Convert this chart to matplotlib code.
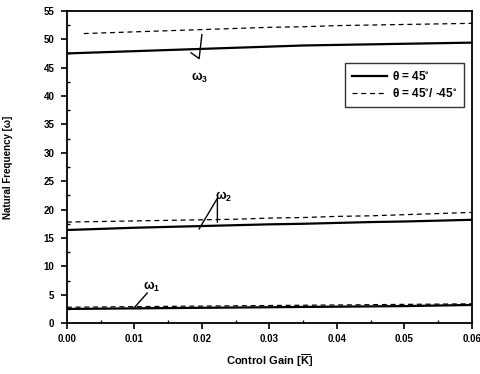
import matplotlib
matplotlib.use('Agg')
import matplotlib.pyplot as plt
from matplotlib.ticker import MultipleLocator

plt.rcParams['font.family'] = ['Liberation Sans', 'DejaVu Sans']
plt.rcParams['font.weight'] = 'bold'
plt.rcParams['mathtext.default'] = 'regular'

# control gain values
gain = [0.0, 0.005, 0.01, 0.015, 0.02, 0.025, 0.03, 0.035, 0.04, 0.045, 0.05, 0.055, 0.06]
gain_w3_dash = [0.0025, 0.005, 0.01, 0.015, 0.02, 0.025, 0.03, 0.035, 0.04, 0.045, 0.05, 0.055, 0.06]

# theta = 45 (solid)
w1_45 = [2.5, 2.55, 2.6, 2.65, 2.7, 2.75, 2.8, 2.85, 2.9, 2.95, 3.0, 3.1, 3.2]
w2_45 = [16.4, 16.6, 16.8, 16.95, 17.1, 17.25, 17.4, 17.5, 17.65, 17.8, 17.9, 18.05, 18.2]
w3_45 = [47.5, 47.7, 47.9, 48.1, 48.3, 48.5, 48.7, 48.9, 49.0, 49.1, 49.2, 49.3, 49.4]

# theta = 45/-45 (dashed)
w1_4545 = [2.8, 2.85, 2.9, 2.95, 3.0, 3.05, 3.1, 3.15, 3.2, 3.25, 3.3, 3.35, 3.4]
w2_4545 = [17.8, 17.9, 18.0, 18.1, 18.2, 18.3, 18.5, 18.6, 18.8, 18.9, 19.1, 19.3, 19.5]
w3_4545 = [51.0, 51.1, 51.3, 51.5, 51.7, 51.9, 52.1, 52.2, 52.4, 52.5, 52.6, 52.7, 52.8]

fig = plt.figure(figsize=(4.81, 3.74), dpi=100)
ax = fig.add_axes([0.139, 0.136, 0.842, 0.835])

ax.plot(gain, w1_45, color='black', lw=1.6, label=r'θ = 45$^{\circ}$')
ax.plot(gain, w1_4545, color='black', lw=0.9, ls=(0, (4, 3)), label=r'θ = 45$^{\circ}$/ -45$^{\circ}$')
ax.plot(gain, w2_45, color='black', lw=1.6)
ax.plot(gain, w2_4545, color='black', lw=0.9, ls=(0, (4, 3)))
ax.plot(gain, w3_45, color='black', lw=1.6)
ax.plot(gain_w3_dash, w3_4545, color='black', lw=0.9, ls=(0, (4, 3)))

# curve labels with leader lines
ax.plot([0.0184, 0.0196, 0.0200], [47.6, 46.6, 50.8], color='black', lw=1.0)
ax.text(0.0197, 43.2, r'ω$_3$', fontsize=9, ha='center', va='center')
ax.plot([0.0196, 0.0223, 0.0223], [16.6, 22.0, 17.8], color='black', lw=1.0)
ax.text(0.0232, 22.3, r'ω$_2$', fontsize=9, ha='center', va='center')
ax.plot([0.0099, 0.0119], [2.6, 5.3], color='black', lw=1.0)
ax.text(0.0126, 6.3, r'ω$_1$', fontsize=9, ha='center', va='center')

ax.set_xlim(0, 0.06)
ax.set_ylim(0, 55)
ax.xaxis.set_major_locator(MultipleLocator(0.01))
ax.xaxis.set_minor_locator(MultipleLocator(0.005))
ax.yaxis.set_major_locator(MultipleLocator(5))
ax.yaxis.set_minor_locator(MultipleLocator(2.5))
ax.set_xticklabels(['%.2f' % v for v in ax.get_xticks()])
ax.tick_params(which='major', direction='out', length=4, width=1.2, labelsize=7)
ax.tick_params(axis='y', which='major', pad=5)
ax.tick_params(which='minor', direction='in', length=2.5, width=1.0)
for s in ax.spines.values():
    s.set_linewidth(1.3)

ax.set_xlabel(r'Control Gain [$\overline{K}$]', fontsize=8, fontweight='bold', labelpad=6)
ax.set_ylabel('Natural Frequency [ω]', fontsize=7, fontweight='bold', labelpad=22)

leg = ax.legend(loc='upper right', bbox_to_anchor=(0.99, 0.845), fontsize=8.5,
                frameon=True, fancybox=False, edgecolor='black', handlelength=3.0,
                handletextpad=0.4, borderpad=0.6, borderaxespad=0.3, labelspacing=0.35)
leg.get_frame().set_linewidth(1.0)

fig.savefig('out.png', dpi=100)
